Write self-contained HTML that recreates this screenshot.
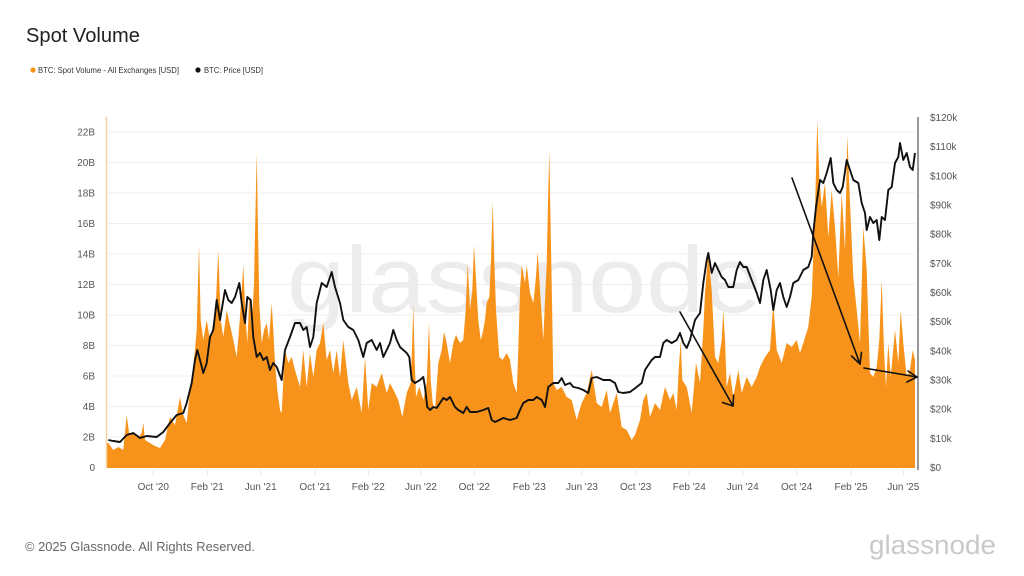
<!DOCTYPE html>
<html>
<head>
<meta charset="utf-8">
<style>
html,body{margin:0;padding:0;background:#fff;}
svg{display:block;}
text{font-family:"Liberation Sans",sans-serif;}
</style>
</head>
<body>
<svg width="1024" height="576" viewBox="0 0 1024 576" xmlns="http://www.w3.org/2000/svg">
<rect width="1024" height="576" fill="#fff"/>
<!-- title -->
<text x="26" y="42" font-size="20" fill="#222" textLength="114" lengthAdjust="spacingAndGlyphs">Spot Volume</text>
<!-- legend -->
<circle cx="33" cy="70" r="2.6" fill="#f7931a"/>
<text x="38" y="73" font-size="8.5" fill="#333" textLength="141" lengthAdjust="spacingAndGlyphs">BTC: Spot Volume - All Exchanges [USD]</text>
<circle cx="198" cy="70" r="2.6" fill="#111"/>
<text x="204" y="73" font-size="8.5" fill="#333" textLength="59" lengthAdjust="spacingAndGlyphs">BTC: Price [USD]</text>

<!-- gridlines -->
<g stroke="#efefef" stroke-width="1">
<line x1="108" x2="915" y1="437" y2="437"/>
<line x1="108" x2="915" y1="406.5" y2="406.5"/>
<line x1="108" x2="915" y1="376" y2="376"/>
<line x1="108" x2="915" y1="345.5" y2="345.5"/>
<line x1="108" x2="915" y1="315" y2="315"/>
<line x1="108" x2="915" y1="284.5" y2="284.5"/>
<line x1="108" x2="915" y1="254" y2="254"/>
<line x1="108" x2="915" y1="223.5" y2="223.5"/>
<line x1="108" x2="915" y1="193" y2="193"/>
<line x1="108" x2="915" y1="162.5" y2="162.5"/>
<line x1="108" x2="915" y1="132" y2="132"/>
</g>

<!-- watermark -->
<text x="287" y="312" font-size="94" fill="#ececec" textLength="475" lengthAdjust="spacingAndGlyphs">glassnode</text>

<!-- volume area -->
<polygon fill="#f7931a" points="107,468 107,443 108.3,443 113.3,450 118.3,447 123.3,450 126.7,415 129.3,435 133.3,433 138.3,438 141.7,433 143.3,423 145,440 150,443 155,446 160,448 165,440 170,417 175,425 180,397 183.3,415 186.7,423 190,390 191.7,380 195,350 196.7,330 199,245 200.7,320 203.3,340 206.7,320 210,340 213.3,323 216,300 218.3,250 220.7,320 223.3,337 226.7,310 230,325 233.3,340 236.7,357 240,317 243.3,265 245.7,320 247.3,343 249.3,297 251.7,327 254,283 255.3,220 256.7,153 258,230 259.3,303 261.7,343 264,330 266.7,323 269,340 271.7,303 273.3,330 275,363 277.3,390 280,410 281.7,413 283.3,380 285,350 288.3,363 291.7,357 295,370 300,387 303.3,350 306.7,387 310,353 313.3,377 316.7,350 320,343 323.3,323 326.7,360 330,350 333.3,373 336.7,350 340,377 343.3,340 348.3,383 351.7,400 356.7,387 361.7,413 365,357 368.3,410 371.7,383 376.7,387 381.7,373 386.7,393 390,383 395,393 398.3,400 402.3,417 406.7,393 410.7,383 412.3,340 413.3,305 414.7,360 416,397 419.3,387 423.3,400 426.7,383 429,322 430.7,380 432.7,403 435,410 438.3,363 441.7,350 444,332 446.7,343 450,363 453.3,343 456,335 460,343 463.3,340 465.7,310 467.7,263 470,310 472.3,290 474,245 476,280 478.3,320 480.7,340 482.7,333 485,320 486.7,303 489.3,297 491,260 492.7,202 494.3,260 496,310 499.3,357 502.7,360 506.7,353 510,360 513.3,383 516.7,393 518.3,350 520,290 521.7,265 525,283 526.7,265 530,293 533.3,303 535.7,280 537.7,252 540,290 543.3,340 545,300 546.7,263 548.3,190 549.3,150 550.7,230 552,300 553.3,383 556.7,390 561.7,387 566.7,397 571.7,400 576.7,420 581.7,403 586.7,393 591.7,370 596.7,403 601.7,407 606.7,390 610,413 616.7,393 621.7,427 626.7,430 631.7,440 635,435 640,420 643.3,400 646.7,393 650,417 655,403 660,410 665,387 670,400 673.3,393 676.7,410 678.7,370 680.7,340 682.3,380 686.7,387 691.7,413 696,363 700,383 703.3,330 705,293 708.3,253 711.7,290 715,357 718.3,363 721.7,340 723.3,310 725,340 726.7,387 730,373 733.3,397 738.3,370 741.7,393 746.7,377 751.7,387 756.7,377 760,367 765,357 770,350 773.3,303 776.7,350 781.7,363 786.7,343 791.7,347 796.7,340 800,353 803.3,343 808.3,327 811.7,297 815,210 817.3,120 819.3,177 821.7,207 825,183 828.3,237 831.7,190 835,227 838.3,277 841.7,193 845,250 847.3,135 850,203 853.3,277 856.7,310 860,343 863.3,227 866.7,270 870,373 873.3,377 876.7,367 879.3,340 881.7,280 884,350 886,387 888.3,343 890.7,377 895,330 898.3,363 900.7,310 903.3,343 906.7,377 910,370 912.7,350 915,360 915,468"/>

<!-- price line -->
<polyline fill="none" stroke="#111" stroke-width="1.9" stroke-linejoin="round" points="108.3,440 113.3,441 120,442 126.7,435 133.3,433 140,438 146.7,436 156.7,437 163.3,432 170,423 176.7,415 183.3,413 186.7,403 191.7,383 195,360 197.3,350 200,360 203.3,373 206.7,363 210,337 213.3,330 216.7,300 220,320 225,290 228.3,300 231.7,303 235,297 239.3,283 241.7,303 245,323 247.3,297 250.7,300 253.3,337 256.7,357 260,353 263.3,360 266.7,357 270,370 273.3,363 276.7,367 281.7,380 285,350 290,337 295,323 300,323 303.3,330 306.7,327 310,347 313.3,337 316.7,303 321.7,283 326.7,287 331.7,272 335,287 340,303 343.3,320 348.3,327 353.3,330 358.3,340 363.3,357 366.7,343 371.7,340 376.7,350 380,343 383.3,357 386.7,350 390,343 393.3,330 396.7,340 400,347 403.3,350 406.7,353 409.3,357 411.7,380 415,383 420,380 423.3,377 425,387 427.3,407 430,410 433.3,407 436.7,408 440,403 443.3,398 446.7,400 450,397 455,407 458.3,410 463.3,413 466.7,407 470,412 476.7,412 483.3,410 488.3,408 491.7,420 495,422 503.3,418 510,420 516.7,418 520,410 523.3,403 528.3,400 533.3,400 536.7,397 541.7,400 545,407 548.3,387 553.3,383 558.3,383 561.7,378 565,385 570,383 573.3,387 578.3,388 583.3,390 588.3,393 591.7,378 596.7,377 603.3,380 610,380 615,383 618.3,392 623.3,393 630,392 636.7,387 641.7,383 645,370 648.3,365 651.7,360 655,357 660,357 663.3,343 666.7,340 671.7,343 676.7,340 680,333 683.3,343 686.7,348 690,340 695,320 700,313 703.3,283 706.7,260 708.3,253 711.7,273 715,263 718.3,270 721.7,277 725,280 728.3,287 733.3,287 736.7,270 740,262 743.3,267 746.7,267 751.7,280 756.7,293 760,303 763.3,280 766.7,270 770.7,290 773.3,310 776.7,290 780,283 783.3,297 786.7,307 790,297 793.3,283 798.3,280 803.3,270 808.3,267 811.7,257 813.3,233 816,207 820,180 823.3,183 826.7,173 830.7,158 833.3,183 836.7,190 840,193 842.7,187 846.7,160 850,170 853.3,180 858.3,183 861.7,203 865,213 866.7,230 870,217 873.3,223 876.7,220 879.3,240 881.7,217 885,220 888.3,190 891.7,187 895,163 898.3,157 900,143 903.3,160 906.7,153 910,167 912.7,170 915,153"/>

<!-- arrows -->
<g stroke="#111" stroke-width="1.6" fill="none" stroke-linecap="round" stroke-linejoin="round">
<line x1="680" y1="312" x2="733" y2="406"/>
<polyline points="722.5,402.5 733,406 733.6,395"/>
<line x1="792" y1="178" x2="860" y2="364"/>
<polyline points="851.5,356 860,364 861.5,352.5"/>
<line x1="864" y1="368" x2="917" y2="377"/>
<polyline points="908,371 917,377 907,382"/>
</g>

<!-- axes -->
<line x1="106.5" y1="117" x2="106.5" y2="468" stroke="#f6d3a2" stroke-width="1.5"/>
<line x1="918" y1="117" x2="918" y2="470" stroke="#333" stroke-width="1"/>

<!-- x ticks -->
<g stroke="#e6e6e6" stroke-width="1">
<line x1="153.3" x2="153.3" y1="470" y2="475"/>
<line x1="207.3" x2="207.3" y1="470" y2="475"/>
<line x1="260.7" x2="260.7" y1="470" y2="475"/>
<line x1="315" x2="315" y1="470" y2="475"/>
<line x1="368.3" x2="368.3" y1="470" y2="475"/>
<line x1="421" x2="421" y1="470" y2="475"/>
<line x1="474.3" x2="474.3" y1="470" y2="475"/>
<line x1="529.3" x2="529.3" y1="470" y2="475"/>
<line x1="582" x2="582" y1="470" y2="475"/>
<line x1="635.7" x2="635.7" y1="470" y2="475"/>
<line x1="689.3" x2="689.3" y1="470" y2="475"/>
<line x1="742.7" x2="742.7" y1="470" y2="475"/>
<line x1="796.7" x2="796.7" y1="470" y2="475"/>
<line x1="851" x2="851" y1="470" y2="475"/>
<line x1="903.3" x2="903.3" y1="470" y2="475"/>
</g>

<!-- left labels -->
<g font-size="10" fill="#555" text-anchor="end">
<text x="95" y="471">0</text>
<text x="95" y="440.5">2B</text>
<text x="95" y="410">4B</text>
<text x="95" y="379.5">6B</text>
<text x="95" y="349">8B</text>
<text x="95" y="318.5">10B</text>
<text x="95" y="288">12B</text>
<text x="95" y="257.5">14B</text>
<text x="95" y="227">16B</text>
<text x="95" y="196.5">18B</text>
<text x="95" y="166">20B</text>
<text x="95" y="135.5">22B</text>
</g>

<!-- right labels -->
<g font-size="10" fill="#555" text-anchor="start">
<text x="930" y="471">$0</text>
<text x="930" y="441.8">$10k</text>
<text x="930" y="412.7">$20k</text>
<text x="930" y="383.5">$30k</text>
<text x="930" y="354.3">$40k</text>
<text x="930" y="325.2">$50k</text>
<text x="930" y="296">$60k</text>
<text x="930" y="266.8">$70k</text>
<text x="930" y="237.7">$80k</text>
<text x="930" y="208.5">$90k</text>
<text x="930" y="179.3">$100k</text>
<text x="930" y="150.2">$110k</text>
<text x="930" y="121">$120k</text>
</g>

<!-- x labels -->
<g font-size="10" fill="#555" text-anchor="middle">
<text x="153.3" y="490">Oct '20</text>
<text x="207.3" y="490">Feb '21</text>
<text x="260.7" y="490">Jun '21</text>
<text x="315" y="490">Oct '21</text>
<text x="368.3" y="490">Feb '22</text>
<text x="421" y="490">Jun '22</text>
<text x="474.3" y="490">Oct '22</text>
<text x="529.3" y="490">Feb '23</text>
<text x="582" y="490">Jun '23</text>
<text x="635.7" y="490">Oct '23</text>
<text x="689.3" y="490">Feb '24</text>
<text x="742.7" y="490">Jun '24</text>
<text x="796.7" y="490">Oct '24</text>
<text x="851" y="490">Feb '25</text>
<text x="903.3" y="490">Jun '25</text>
</g>

<!-- footer -->
<text x="25" y="551" font-size="13" fill="#666" textLength="230" lengthAdjust="spacingAndGlyphs">© 2025 Glassnode. All Rights Reserved.</text>
<text x="869" y="554" font-size="27" fill="#c9c9c9" textLength="127" lengthAdjust="spacingAndGlyphs">glassnode</text>
</svg>
</body>
</html>
